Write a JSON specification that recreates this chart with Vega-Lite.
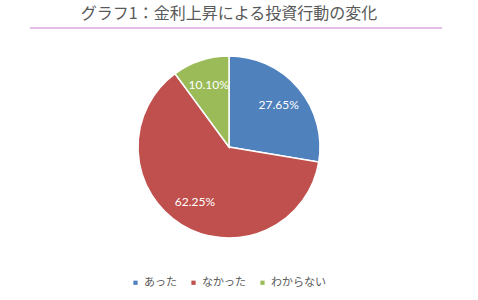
{
  "$schema": "https://vega.github.io/schema/vega-lite/v6.json",
  "width": 458,
  "height": 214,
  "autosize": "none",
  "padding": {"left": 0, "top": 40, "right": 20, "bottom": 46},
  "title": {
    "text": "グラフ1：金利上昇による投資行動の変化",
    "font": "Noto Sans CJK JP",
    "fontSize": 16,
    "fontWeight": "normal",
    "color": "#595959",
    "anchor": "middle",
    "offset": 5
  },
  "config": {"view": {"stroke": null}},
  "data": {
    "values": [
      {"category": "あった", "value": 27.65, "label": "27.65%"},
      {"category": "なかった", "value": 62.25, "label": "62.25%"},
      {"category": "わからない", "value": 10.10, "label": "10.10%"}
    ]
  },
  "layer": [
    {
      "data": {"values": [{}]},
      "mark": {"type": "rule", "color": "#dba6dd", "strokeWidth": 1.5, "clip": false},
      "encoding": {
        "x": {"value": 30},
        "x2": {"value": 442},
        "y": {"value": -12},
        "y2": {"value": -12}
      }
    },
    {
      "mark": {"type": "arc", "outerRadius": 91, "stroke": "white", "strokeWidth": 1.5},
      "encoding": {
        "theta": {"field": "value", "type": "quantitative", "stack": true},
        "order": {"field": "category", "sort": "ascending"},
        "color": {
          "field": "category",
          "type": "nominal",
          "scale": {"domain": ["あった", "なかった", "わからない"], "range": ["#4F81BD", "#C0504D", "#9BBB59"]},
          "legend": {
            "orient": "none",
            "legendX": 130,
            "legendY": 237,
            "direction": "horizontal",
            "title": null,
            "symbolType": "square",
            "symbolSize": 18,
            "symbolStrokeWidth": 0,
            "labelFont": "Noto Sans CJK JP",
            "labelFontSize": 11,
            "labelColor": "#595959",
            "columnPadding": 11,
            "labelOffset": 3
          }
        }
      }
    },
    {
      "mark": {"type": "text", "radius": 65, "font": "Lato", "fontSize": 12, "color": "white", "align": "center", "baseline": "middle"},
      "encoding": {
        "theta": {"field": "value", "type": "quantitative", "stack": true},
        "order": {"field": "category", "sort": "ascending"},
        "detail": {"field": "category", "type": "nominal"},
        "text": {"field": "label", "type": "nominal"}
      }
    }
  ]
}
